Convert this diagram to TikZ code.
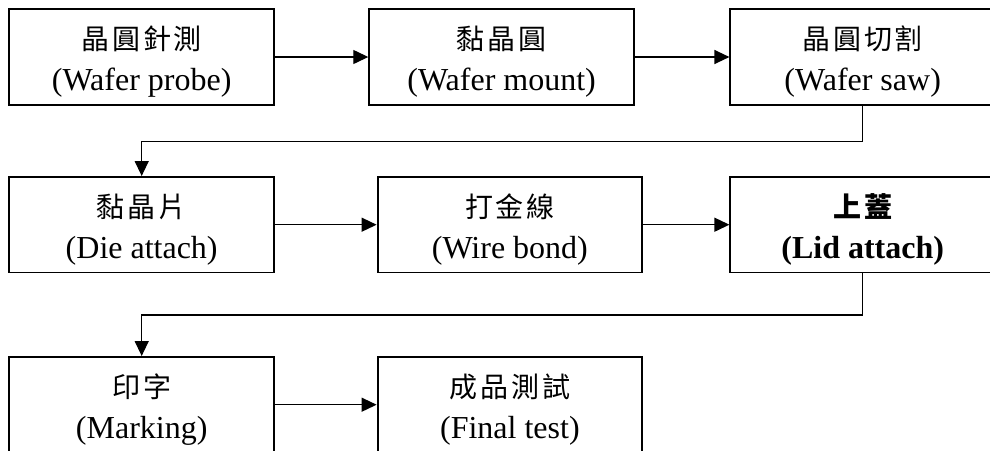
\documentclass[tikz,border=0pt]{standalone}
\usepackage{fontspec}
\setmainfont{Liberation Serif}
\newfontfamily\cjk[LetterSpace=10]{Noto Sans CJK TC}
\usetikzlibrary{arrows.meta}
\newcommand\twoline[2]{{\cjk\fontsize{28}{41}\selectfont #1}\\#2}
\tikzset{
  stepbox/.style={draw=black, line width=1.9pt, rectangle, minimum width=264.7pt, minimum height=95.5pt, inner sep=0pt},
  steptext/.style={inner sep=0pt, align=center, font=\fontsize{32}{41}\selectfont},
  boldtext/.style={steptext, font=\fontsize{32}{41}\selectfont\bfseries},
  flow/.style={line width=1.3pt, -{Triangle[length=15pt,width=14pt]}}
}
\begin{document}
\begin{tikzpicture}[x=1pt,y=-1pt]
\useasboundingbox (0,0) rectangle (990,450);
\clip (0,0) rectangle (990,450);
\node[stepbox] (b1) at (141.7,57) {};
\node[stepbox] (b2) at (501.6,57) {};
\node[stepbox] (b3) at (862.7,57) {};
\node[stepbox] (b4) at (141.7,224.7) {};
\node[stepbox] (b5) at (509.9,224.7) {};
\node[stepbox] (b6) at (862.7,224.7) {};
\node[stepbox] (b7) at (141.7,404.7) {};
\node[stepbox] (b8) at (509.9,404.7) {};
\node[steptext] (l1) at ([yshift=-5pt]b1.center) {\twoline{晶圓針測}{(Wafer probe)}};
\node[steptext] (l2) at ([yshift=-5pt]b2.center) {\twoline{黏晶圓}{(Wafer mount)}};
\node[steptext] (l3) at ([yshift=-5pt]b3.center) {\twoline{晶圓切割}{(Wafer saw)}};
\node[steptext] (l4) at ([yshift=-5pt]b4.center) {\twoline{黏晶片}{(Die attach)}};
\node[steptext] (l5) at ([yshift=-5pt]b5.center) {\twoline{打金線}{(Wire bond)}};
\node[boldtext] (l6) at ([yshift=-5pt]b6.center) {\twoline{上蓋}{(Lid attach)}};
\node[steptext] (l7) at ([yshift=-5pt]b7.center) {\twoline{印字}{(Marking)}};
\node[steptext] (l8) at ([yshift=-5pt]b8.center) {\twoline{成品測試}{(Final test)}};
\coordinate (t1) at (862.7,141.3);
\coordinate (t2) at (141.7,141.3);
\coordinate (t3) at (862.7,315);
\coordinate (t4) at (141.7,315);
\draw[flow] (b1) -- (b2);
\draw[flow] (b2) -- (b3);
\draw[flow] (b3.south) -- (t1) -- (t2) -- (b4.north);
\draw[flow] (b4) -- (b5);
\draw[flow] (b5) -- (b6);
\draw[flow] (b6.south) -- (t3) -- (t4) -- (b7.north);
\draw[flow] (b7) -- (b8);
\end{tikzpicture}
\end{document}
